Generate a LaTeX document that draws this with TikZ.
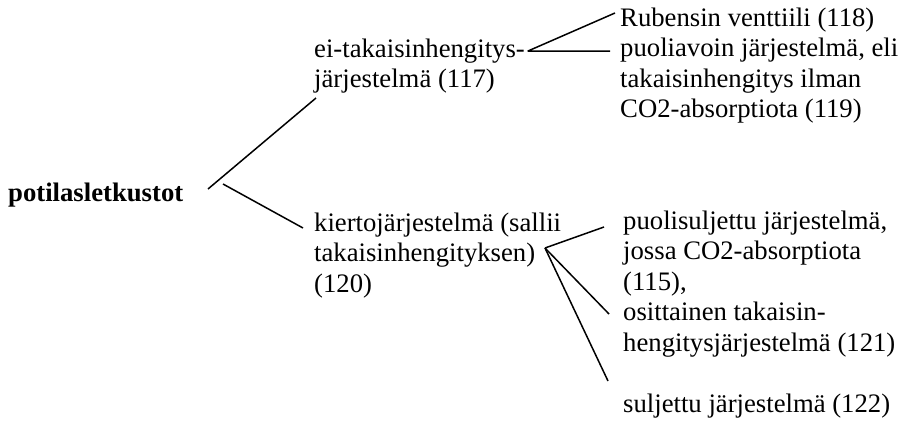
\documentclass[tikz,border=0pt]{standalone}
\usepackage{fontspec}
\setmainfont{Liberation Serif}
\usepackage{tikz}
\usetikzlibrary{calc,positioning}
\newcommand{\treefont}{\fontsize{26.7}{30.5}\selectfont}
\tikzset{lbl/.style={anchor=base west,inner sep=0pt,align=left},
  branch/.style={line width=1.5pt}}

\begin{document}
\begin{tikzpicture}[x=1pt,y=-1pt,line join=round,font=\treefont]
\useasboundingbox (0,0) rectangle (903,421);
% --- root (base of a node = baseline of its last line)
\node[lbl,font=\treefont\bfseries] (root) at (8,201) {potilasletkustot};
\coordinate (rup) at (208,189); \coordinate (rdn) at (223,184);
% --- second level
\node[lbl] (ei) at (314,87.5) {ei-takaisinhengitys-\\järjestelmä (117)};
\node[lbl] (kierto) at (314,292) {kiertojärjestelmä (sallii\\takaisinhengityksen)\\(120)};
\coordinate (eiend) at (316,98); \coordinate (kend) at (303,228);
\draw[branch] (rup) -- (eiend); \draw[branch] (rdn) -- (kend);
% --- leaves of ei-takaisinhengitys
\node[lbl] (rub) at (620,117.5) {Rubensin venttiili (118)\\puoliavoin järjestelmä, eli\\takaisinhengitys ilman\\CO2-absorptiota (119)};
\coordinate (ev) at (528,51);
\coordinate (rubend) at (615,13); \coordinate (puoend) at (610,51);
\draw[branch] (rubend) -- (ev) -- (puoend);
% --- leaves of kiertojarjestelma
\node[lbl] (psul) at (623,351) {puolisuljettu järjestelmä,\\jossa CO2-absorptiota\\(115),\\osittainen takaisin-\\hengitysjärjestelmä (121)};
\node[lbl] (sul) at (623,412) {suljettu järjestelmä (122)};
\coordinate (kv) at (545,248);
\coordinate (psend) at (604,227); \coordinate (osend) at (609,314); \coordinate (sulend) at (608,381);
\draw[branch] (kv) -- (psend); \draw[branch] (kv) -- (osend); \draw[branch] (kv) -- (sulend);
\end{tikzpicture}
\end{document}
